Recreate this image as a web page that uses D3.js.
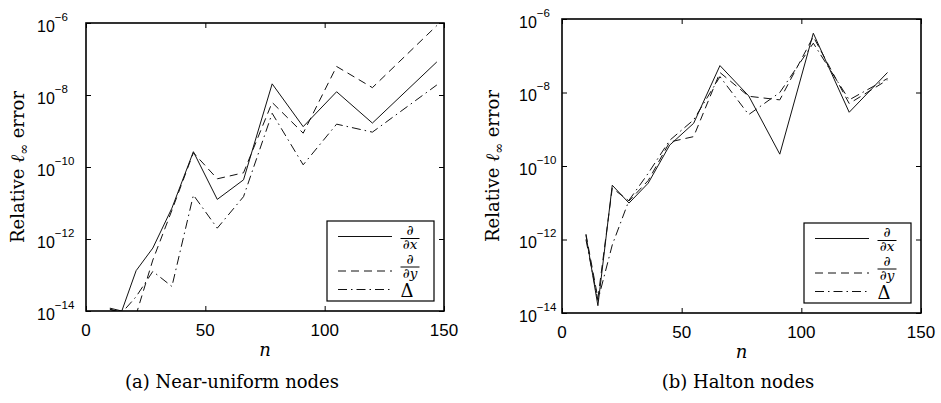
<!DOCTYPE html>
<html>
<head>
<meta charset="utf-8">
<script src="https://cdn.jsdelivr.net/npm/d3@7"></script>
<style>
  html, body { margin: 0; padding: 0; background: #fff; }
  svg { display: block; }
</style>
</head>
<body>
<svg id="chart" width="941" height="403"></svg>
<script>
// Number of nodes n for each node family
const uniformN = [10, 15, 21, 28, 36, 45, 55, 66, 78, 91, 105, 120, 147];
const haltonN  = [10, 15, 21, 28, 36, 45, 55, 66, 78, 91, 105, 120, 136];

// Relative l-infinity errors, near-uniform nodes
const uniformDx  = [1.2e-14, 1.0e-14, 1.32e-13, 5.6e-13, 7.2e-12, 2.66e-10, 1.26e-11, 4.4e-11, 2.04e-8, 1.32e-9, 1.23e-8, 1.66e-9, 8.3e-8];
const uniformDy  = [1.12e-14, 8.9e-15, 7.9e-15, 2.6e-13, 6.3e-12, 2.5e-10, 4.7e-11, 6.9e-11, 6.2e-9, 8.7e-10, 6.2e-8, 1.6e-8, 8.5e-7];
const uniformLap = [1.12e-14, 8.9e-15, 2.5e-14, 1.26e-13, 4.8e-14, 1.66e-11, 2.0e-12, 1.5e-11, 3.1e-9, 1.15e-10, 1.55e-9, 9.3e-10, 1.9e-8];

// Relative l-infinity errors, Halton nodes
const haltonDx  = [1.32e-12, 1.58e-14, 3.0e-11, 9.8e-12, 3.4e-11, 3.7e-10, 1.45e-9, 5.4e-8, 8.1e-9, 2.1e-10, 4.1e-7, 2.9e-9, 3.5e-8];
const haltonDy  = [1.41e-12, 2.5e-14, 2.5e-11, 1.12e-11, 4.0e-11, 4.5e-10, 6.3e-10, 3.5e-8, 7.9e-9, 6.3e-9, 3.3e-7, 5.0e-9, 2.2e-8];
const haltonLap = [1.0e-12, 2.2e-14, 7.1e-13, 1.17e-11, 6.3e-11, 5.0e-10, 1.8e-9, 2.7e-8, 2.5e-9, 1.0e-8, 2.2e-7, 6.3e-9, 2.4e-8];

// Axis ticks and texts
const xTicks = [0, 50, 100, 150];
const yTickExponents = [-14, -12, -10, -8, -6];
const captions = ["(a) Near-uniform nodes", "(b) Halton nodes"];
const seriesStyles = ["solid", "dashed", "dashdot"];

const dashFor = {
  solid: null,
  dashed: "8,5",
  dashdot: "9,4,1.5,4"
};

const svg = d3.select("#chart");
const sansFont = "'Liberation Sans', Arial, sans-serif";
const serifFont = "'DejaVu Serif', 'Liberation Serif', serif";

const panels = [
  { x0: 86,  x1: 444, y0: 23, y1: 311, tickLabelX: 37,  yLabelX: 24, n: uniformN,
    series: [uniformDx, uniformDy, uniformLap], caption: captions[0], capX: 232 },
  { x0: 562, x1: 921, y0: 19, y1: 313, tickLabelX: 519, yLabelX: 499, n: haltonN,
    series: [haltonDx, haltonDy, haltonLap], caption: captions[1], capX: 738 }
];

panels.forEach((p, pi) => {
  const x = d3.scaleLinear().domain([0, 150]).range([p.x0, p.x1]);
  const y = d3.scaleLog().domain([1e-14, 1e-6]).range([p.y1, p.y0]);
  const g = svg.append("g");

  const clipId = "clip" + pi;
  svg.append("defs").append("clipPath").attr("id", clipId)
    .append("rect")
    .attr("x", p.x0).attr("y", p.y0)
    .attr("width", p.x1 - p.x0).attr("height", p.y1 - p.y0);

  // data lines
  const line = d3.line()
    .x((d, i) => x(p.n[i]))
    .y(d => y(d));

  p.series.forEach((vals, si) => {
    g.append("path")
      .datum(vals)
      .attr("clip-path", `url(#${clipId})`)
      .attr("d", line)
      .attr("fill", "none")
      .attr("stroke", "#111")
      .attr("stroke-width", 1)
      .attr("stroke-dasharray", dashFor[seriesStyles[si]]);
  });

  // axes: ticks point inward and are mirrored on top/right
  const tickLen = 5;
  const xAxisB = d3.axisBottom(x).tickValues(xTicks).tickSize(-tickLen).tickFormat("");
  const xAxisT = d3.axisTop(x).tickValues(xTicks).tickSize(-tickLen).tickFormat("");
  const yTickVals = yTickExponents.map(e => Math.pow(10, e));
  const yAxisL = d3.axisLeft(y).tickValues(yTickVals).tickSize(-tickLen).tickFormat("");
  const yAxisR = d3.axisRight(y).tickValues(yTickVals).tickSize(-tickLen).tickFormat("");

  [[xAxisB, `translate(0,${p.y1})`], [xAxisT, `translate(0,${p.y0})`],
   [yAxisL, `translate(${p.x0},0)`], [yAxisR, `translate(${p.x1},0)`]].forEach(([ax, tr]) => {
    const a = g.append("g").attr("transform", tr).call(ax);
    a.select(".domain").remove();
    a.selectAll(".tick line").attr("stroke", "#000").attr("stroke-width", 1);
  });

  // frame
  g.append("rect")
    .attr("x", p.x0).attr("y", p.y0)
    .attr("width", p.x1 - p.x0).attr("height", p.y1 - p.y0)
    .attr("fill", "none").attr("stroke", "#000").attr("stroke-width", 1.6);

  // x tick labels
  g.selectAll(".xlab").data(xTicks).enter().append("text")
    .attr("x", d => x(d)).attr("y", p.y1 + 25)
    .attr("text-anchor", "middle")
    .attr("font-family", sansFont).attr("font-size", 17)
    .text(d => d);

  // y tick labels 10^k
  yTickExponents.forEach(e => {
    const t = g.append("text")
      .attr("x", p.tickLabelX).attr("y", y(Math.pow(10, e)) + 8.5)
      .attr("font-family", sansFont).attr("font-size", 16);
    t.append("tspan").text("10");
    t.append("tspan").attr("dy", -11).attr("font-size", 11.5).text("\u2212" + Math.abs(e));
  });

  // x axis title
  g.append("text")
    .attr("x", (p.x0 + p.x1) / 2).attr("y", p.y1 + 45)
    .attr("text-anchor", "middle")
    .attr("font-family", serifFont).attr("font-style", "italic").attr("font-size", 18)
    .text("n");

  // y axis title
  const cy = (p.y0 + p.y1) / 2;
  const yt = g.append("text")
    .attr("transform", `translate(${p.yLabelX},${cy}) rotate(-90)`)
    .attr("text-anchor", "middle")
    .attr("font-family", serifFont).attr("font-size", 18);
  yt.append("tspan").text("Relative ");
  yt.append("tspan").attr("font-style", "italic").attr("font-size", 19).text("\u2113");
  yt.append("tspan").attr("dy", 4).attr("font-size", 13).text("\u221E");
  yt.append("tspan").attr("dy", -4).text(" error");

  // caption
  g.append("text")
    .attr("x", p.capX).attr("y", 388)
    .attr("text-anchor", "middle")
    .attr("font-family", serifFont).attr("font-size", 18)
    .text(p.caption);

  // legend
  const lw = 107, lh = 80;
  const lx = p.x1 - 10 - lw, ly = p.y1 - 10 - lh;
  const lg = g.append("g").attr("transform", `translate(${lx},${ly})`);
  lg.append("rect").attr("width", lw).attr("height", lh)
    .attr("fill", "#fff").attr("stroke", "#000").attr("stroke-width", 1.2);

  const rowLineY = [15.5, 50, 68.5];
  seriesStyles.forEach((s, si) => {
    lg.append("line")
      .attr("x1", 11).attr("x2", 65)
      .attr("y1", rowLineY[si]).attr("y2", rowLineY[si])
      .attr("stroke", "#111").attr("stroke-width", 1)
      .attr("stroke-dasharray", dashFor[s]);
  });

  // fraction labels for the two derivatives
  const fracs = [{ num: 14, bar: 17.5, den: 28, v: "x" }, { num: 42.5, bar: 46, den: 56.5, v: "y" }];
  fracs.forEach(f => {
    lg.append("text").attr("x", 83).attr("y", f.num).attr("text-anchor", "middle")
      .attr("font-family", serifFont).attr("font-size", 14).text("\u2202");
    lg.append("line").attr("x1", 73.5).attr("x2", 92.5).attr("y1", f.bar).attr("y2", f.bar)
      .attr("stroke", "#000").attr("stroke-width", 1);
    const den = lg.append("text").attr("x", 83).attr("y", f.den).attr("text-anchor", "middle")
      .attr("font-family", serifFont).attr("font-size", 13.5);
    den.append("tspan").text("\u2202");
    den.append("tspan").attr("font-style", "italic").text(f.v);
  });
  lg.append("text").attr("x", 80).attr("y", 75.5).attr("text-anchor", "middle")
    .attr("font-family", serifFont).attr("font-size", 18).text("\u0394");
});
</script>
</body>
</html>
